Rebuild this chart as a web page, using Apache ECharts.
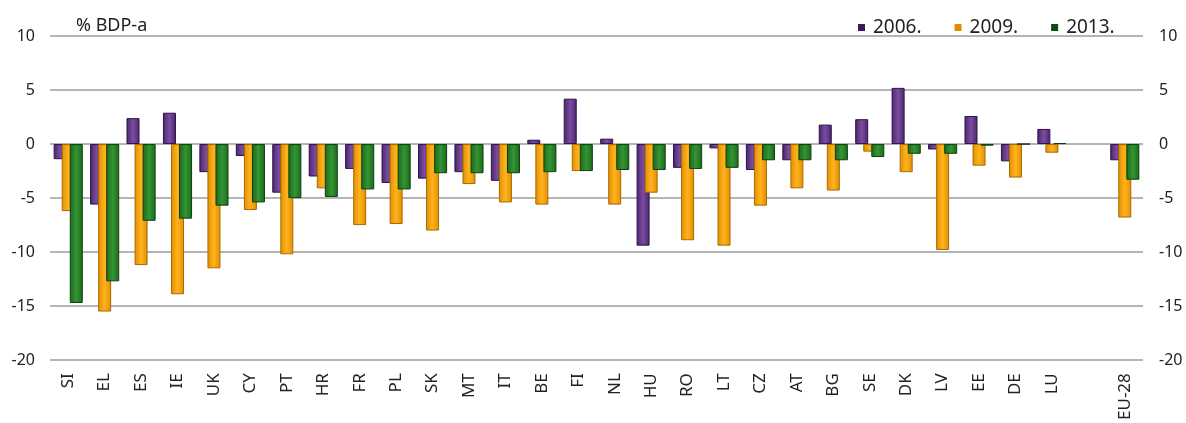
<!DOCTYPE html>
<html>
<head>
<meta charset="utf-8">
<script src="https://cdn.jsdelivr.net/npm/echarts@6/dist/echarts.min.js"></script>
<style>
html,body{margin:0;padding:0;background:#fff;}
#chart{width:1186px;height:423px;}
</style>
</head>
<body>
<div id="chart"></div>
<script>
var categories = ['SI','EL','ES','IE','UK','CY','PT','HR','FR','PL','SK','MT','IT','BE','FI','NL','HU','RO','LT','CZ','AT','BG','SE','DK','LV','EE','DE','LU','','EU-28'];
var seriesNames = ['2006.','2009.','2013.'];
var v2006 = [-1.4,-5.6,2.4,2.9,-2.6,-1.1,-4.5,-3.0,-2.3,-3.6,-3.2,-2.6,-3.4,0.4,4.2,0.5,-9.4,-2.2,-0.4,-2.4,-1.5,1.8,2.3,5.2,-0.5,2.6,-1.6,1.4,null,-1.5];
var v2009 = [-6.2,-15.5,-11.2,-13.9,-11.5,-6.1,-10.2,-4.1,-7.5,-7.4,-8.0,-3.7,-5.4,-5.6,-2.5,-5.6,-4.5,-8.9,-9.4,-5.7,-4.1,-4.3,-0.7,-2.6,-9.8,-2.0,-3.1,-0.8,null,-6.8];
var v2013 = [-14.7,-12.7,-7.1,-6.9,-5.7,-5.4,-5.0,-4.9,-4.2,-4.2,-2.7,-2.7,-2.7,-2.6,-2.5,-2.4,-2.4,-2.3,-2.2,-1.5,-1.5,-1.5,-1.2,-0.9,-0.9,-0.15,0.0,0.1,null,-3.3];
var yTicks = {min:-20, max:10, interval:5};
var unitLabel = '% BDP-a';

var FONT = '"Noto Sans", sans-serif';
function grad(dark, light) {
  return new echarts.graphic.LinearGradient(0,0,1,0,[
    {offset:0,color:dark},{offset:0.5,color:light},{offset:1,color:dark}
  ]);
}
var styles = [
  {fill: grad('#4a2470','#7a4d9e'), border:'#2e1248', legend:'#3a1a5e'},
  {fill: grad('#e08f00','#ffb21e'), border:'#a86a00', legend:'#e38c00'},
  {fill: grad('#1a6a1a','#349434'), border:'#0d400d', legend:'#0d4a0d'}
];
var dataSets = [v2006, v2009, v2013];

var chart = echarts.init(document.getElementById('chart'));
chart.setOption({
  animation:false,
  textStyle:{fontFamily:FONT},
  title:{text:unitLabel,left:71,top:12,textStyle:{fontSize:18,fontWeight:'normal',color:'#222',fontFamily:FONT}},
  legend:{
    left:853, top:13, itemWidth:7, itemHeight:7, itemGap:33,
    icon:'rect',
    textStyle:{fontSize:19,color:'#222',fontFamily:FONT,padding:[0,0,0,3]},
    data: seriesNames.map(function(n,i){return {name:n, itemStyle:{color:styles[i].legend,borderWidth:0}};})
  },
  grid:{left:50,right:43,top:36,bottom:61},
  xAxis:{
    type:'category', data:categories,
    axisLine:{show:false,onZero:false}, axisTick:{show:false},
    axisLabel:{rotate:90,fontSize:17,color:'#222',margin:13,interval:0,fontFamily:FONT}
  },
  yAxis:[
    {type:'value',min:yTicks.min,max:yTicks.max,interval:yTicks.interval,position:'left',
     axisLine:{show:false},axisTick:{show:false},
     axisLabel:{fontSize:16,color:'#222',margin:15,fontFamily:FONT},
     splitLine:{lineStyle:{color:'#9c9c9c',width:1.5}}},
    {type:'value',min:yTicks.min,max:yTicks.max,interval:yTicks.interval,position:'right',
     axisLine:{show:false},axisTick:{show:false},
     axisLabel:{fontSize:16,color:'#222',margin:16,fontFamily:FONT},
     splitLine:{show:false}}
  ],
  series: seriesNames.map(function(n,i){
    return {
      name:n, type:'bar', data:dataSets[i], barWidth:13, barGap:'-38%',
      itemStyle:{color:styles[i].fill, borderColor:styles[i].border, borderWidth:1}
    };
  })
});
</script>
</body>
</html>
